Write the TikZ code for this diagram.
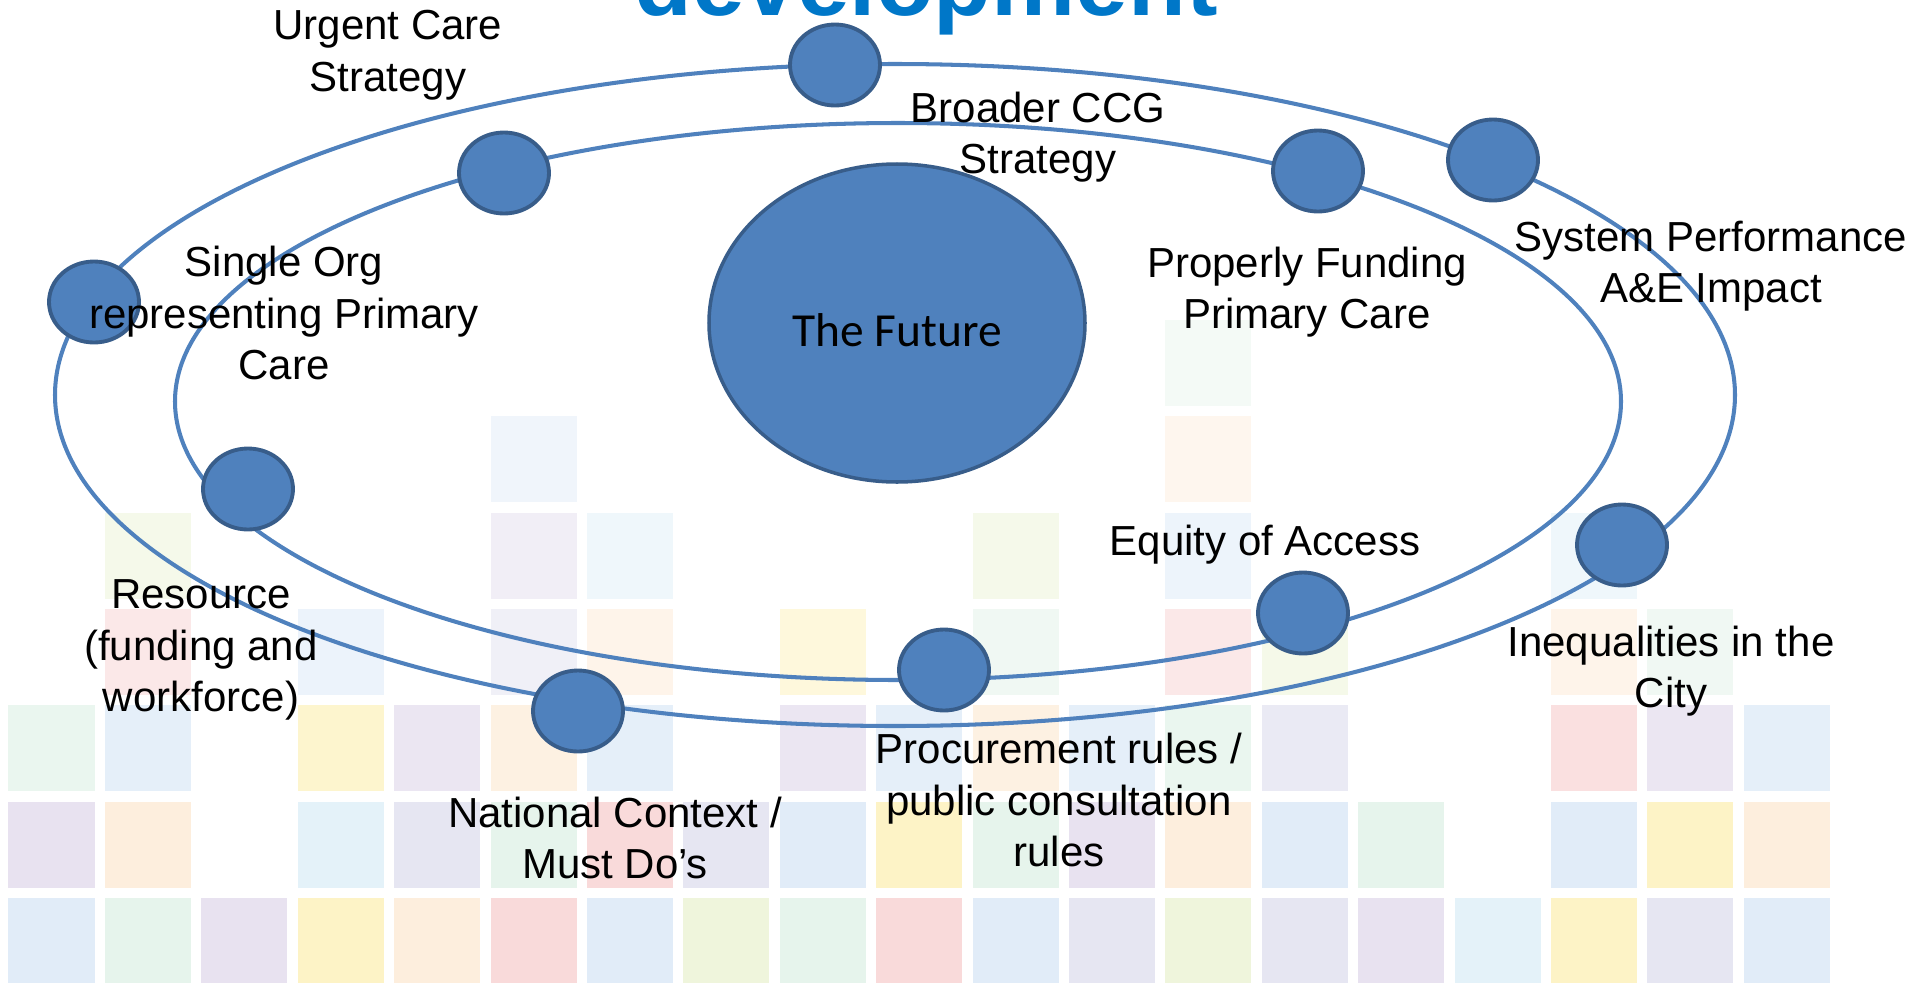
\documentclass[tikz,border=0pt]{standalone}
\usepackage{fontspec}
\setmainfont{Liberation Sans}
\newfontfamily\calibri{Carlito}
\usetikzlibrary{shapes.geometric}

\definecolor{orbitblue}{HTML}{4F81BD}
\definecolor{orbitdark}{HTML}{385D8A}
\definecolor{titleblue}{HTML}{0077C8}
% pale tile colours
\definecolor{tmint}{HTML}{E6F4EC}
\definecolor{tblue}{HTML}{E1ECF8}
\definecolor{tlav}{HTML}{E8E2F0}
\definecolor{tyel}{HTML}{FDF3C6}
\definecolor{tpeach}{HTML}{FDEEDD}
\definecolor{tpink}{HTML}{F9DADA}
\definecolor{tlime}{HTML}{EFF5DC}
\definecolor{tperi}{HTML}{E6E6F2}
\definecolor{tcyan}{HTML}{E4F2F9}

\begin{document}
\begin{tikzpicture}[x=0.1mm, y=-0.1mm,
    orbit/.style={draw=orbitblue, line width=1.15pt},
    planet/.style={ellipse, draw=orbitdark, fill=orbitblue, line width=1.1pt,
        inner sep=0pt, minimum width=9mm, minimum height=8.1mm},
    tag/.style={align=center, font=\fontsize{11.95}{14.65}\selectfont}]
    % ==== CANVAS ====
    \useasboundingbox (0,0) rectangle (1914,983);
    \clip (0,0) rectangle (1914,983);

    % ==== BACKGROUND TILES (column/colour, one loop per row) ====
    \foreach \c/\col in {12/tmint}
        \fill[\col, fill opacity=.45] (8.5+96.4*\c,320) rectangle ++(86,86);
    \foreach \c/\col in {5/tblue, 12/tpeach}
        \fill[\col, fill opacity=.5] (8.5+96.4*\c,416.3) rectangle ++(86,86);
    \foreach \c/\col in {1/tlime, 5/tlav, 6/tcyan, 10/tlime, 12/tblue, 16/tcyan}
        \fill[\col, fill opacity=.6] (8.5+96.4*\c,512.6) rectangle ++(86,86);
    \foreach \c/\col in {1/tpink, 3/tblue, 5/tperi, 6/tpeach, 8/tyel, 10/tmint,
                         12/tpink, 13/tlime, 16/tpeach, 17/tmint}
        \fill[\col, fill opacity=.62] (8.5+96.4*\c,608.9) rectangle ++(86,86);
    \foreach \c/\col in {0/tmint, 1/tblue, 3/tyel, 4/tlav, 5/tpeach, 6/tblue, 8/tlav,
                         9/tblue, 10/tpeach, 11/tblue, 12/tmint, 13/tperi, 16/tpink,
                         17/tlav, 18/tblue}
        \fill[\col, fill opacity=.85] (8.5+96.4*\c,705.2) rectangle ++(86,86);
    \foreach \c/\col in {0/tlav, 1/tpeach, 3/tcyan, 4/tperi, 5/tmint, 6/tpink, 7/tperi,
                         8/tblue, 9/tyel, 10/tmint, 11/tlav, 12/tpeach, 13/tblue,
                         14/tmint, 16/tblue, 17/tyel, 18/tpeach}
        \fill[\col] (8.5+96.4*\c,801.5) rectangle ++(86,86);
    \foreach \c/\col in {0/tblue, 1/tmint, 2/tlav, 3/tyel, 4/tpeach, 5/tpink, 6/tblue,
                         7/tlime, 8/tmint, 9/tpink, 10/tblue, 11/tperi, 12/tlime,
                         13/tperi, 14/tlav, 15/tcyan, 16/tyel, 17/tperi, 18/tblue}
        \fill[\col] (8.5+96.4*\c,897.8) rectangle ++(86,86);

    % ==== TITLE (runs off the top) ====
    \node[anchor=base, text=titleblue, font=\fontsize{26.9}{30}\selectfont\bfseries]
        (title) at (926,15) {development};

    % ==== ORBITS ====
    \coordinate (outerc) at (895,395);
    \coordinate (innerc) at (898,401.5);
    \draw[orbit] (outerc) ellipse [x radius=84mm, y radius=33.1mm];
    \draw[orbit] (innerc) ellipse [x radius=72.3mm, y radius=27.85mm];

    % ==== THE FUTURE ====
    \node[ellipse, draw=orbitdark, fill=orbitblue, line width=1pt, inner sep=0pt,
        minimum width=37.6mm, minimum height=31.8mm, text height=4.6mm, text depth=0pt,
        font=\calibri\fontsize{13.5}{16}\selectfont] (future) at (897,323) {The Future};

    % ==== PLANETS ====
    \node[planet] (broader)   at (835,65)  {};
    \node[planet] (urgent)    at (504,173) {};
    \node[planet] (singleorg) at (94,302)  {};
    \node[planet] (resource)  at (248,489) {};
    \node[planet] (national)  at (578,711) {};
    \node[planet] (procure)   at (944,670) {};
    \node[planet] (equity)    at (1303,613) {};
    \node[planet] (inequal)   at (1622,545) {};
    \node[planet] (sysperf)   at (1493,160) {};
    \node[planet] (funding)   at (1318,171) {};

    % ==== LABELS ====
    \node[tag] (urgent-txt)    at (388,55)   {Urgent Care\\Strategy};
    \node[tag] (broader-txt)   at (1038,137) {Broader CCG\\Strategy};
    \node[tag] (singleorg-txt) at (284,313)  {Single Org\\representing Primary\\Care};
    \node[tag] (funding-txt)   at (1307,292) {Properly Funding\\Primary Care};
    \node[tag] (sysperf-txt)   at (1711,266) {System Performance\\A\&E Impact};
    \node[tag] (equity-txt)    at (1265,545) {Equity of Access};
    \node[tag] (resource-txt)  at (201,650)  {Resource\\(funding and\\workforce)};
    \node[tag] (national-txt)  at (615,838)  {National Context /\\Must Do’s};
    \node[tag] (procure-txt)   at (1059,800) {Procurement rules /\\public consultation\\rules};
    \node[tag] (inequal-txt)   at (1671,671) {Inequalities in the\\City};
\end{tikzpicture}
\end{document}
